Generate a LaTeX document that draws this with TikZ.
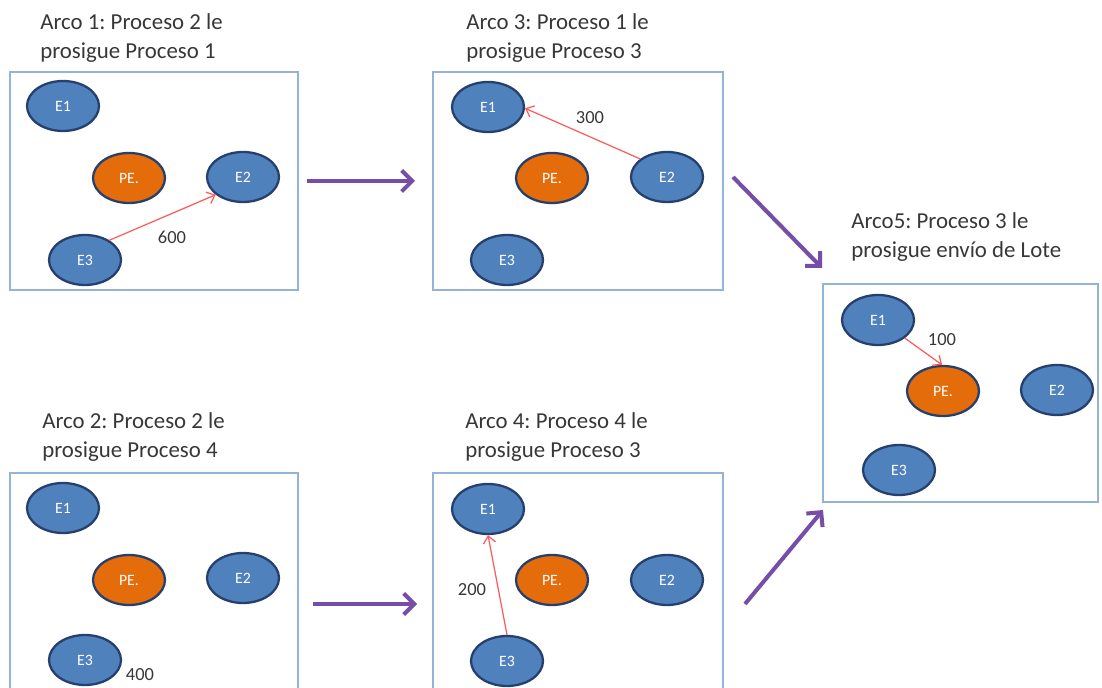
\documentclass[tikz,border=0pt]{standalone}
\usepackage{fontspec}
\setmainfont{Carlito}
\frenchspacing
\usetikzlibrary{shapes.geometric, arrows.meta}
\definecolor{nodeblue}{RGB}{79,129,189}
\definecolor{borderblue}{RGB}{38,64,110}
\definecolor{peorange}{RGB}{228,108,10}
\definecolor{panelblue}{RGB}{149,179,215}
\definecolor{arcred}{RGB}{255,90,90}
\definecolor{flowpurple}{RGB}{118,78,168}
\definecolor{textgray}{RGB}{55,55,55}

\begin{document}
\begin{tikzpicture}[
    x=0.02cm, y=-0.02cm,
    state/.style={
        ellipse,
        draw=borderblue,
        line width=1.3pt,
        fill=nodeblue,
        text=white,
        minimum width=1.44cm,
        minimum height=1cm,
        inner sep=0pt,
        font=\fontsize{9}{10}\selectfont
    },
    pe/.style={state, fill=peorange},
    panel/.style={draw=panelblue, line width=0.8pt},
    title/.style={anchor=north west, inner sep=0pt, align=left, text=textgray,
        font=\fontsize{13}{16.4}\selectfont},
    weight/.style={text=textgray, inner sep=0pt, font=\fontsize{10.5}{12}\selectfont},
    arc/.style={draw=arcred, line width=0.7pt, -{Straight Barb[length=4pt,width=7pt]}},
    flow/.style={draw=flowpurple, line width=2.3pt, -{Straight Barb[length=6pt,width=12pt]}}
]
    \useasboundingbox (0,0) rectangle (1102,688);

    \draw[panel] (10,72) rectangle (298,290);
    \draw[panel] (433,72) rectangle (723,290);
    \draw[panel] (823,284) rectangle (1098,502);
    \draw[panel] (10,688) -- (10,473) -- (298,473) -- (298,688);
    \draw[panel] (433,688) -- (433,473) -- (723,473) -- (723,688);

    \node (t1) [title] at (40,13) {Arco 1: Proceso 2 le\\prosigue Proceso 1};
    \node (t3) [title] at (466,13) {Arco 3: Proceso 1 le\\prosigue Proceso 3};
    \node (t5) [title] at (851,212) {Arco5: Proceso 3 le\\prosigue envío de Lote};
    \node (t2) [title] at (42,412) {Arco 2: Proceso 2 le\\prosigue Proceso 4};
    \node (t4) [title] at (465,412) {Arco 4: Proceso 4 le\\prosigue Proceso 3};

    \node (p1e1) [state] at (63,106) {E1};
    \node (p1pe) [pe] at (129,178) {PE.};
    \node (p1e2) [state] at (243,177) {E2};
    \node (p1e3) [state] at (85,260) {E3};
    \node (w600) [weight] at (172,237) {600};
    \draw[arc] (p1e3.39) -- (p1e2.213);

    \node (p3e1) [state] at (488,107) {E1};
    \node (p3pe) [pe] at (552,178) {PE.};
    \node (p3e2) [state] at (667,177) {E2};
    \node (p3e3) [state] at (507,260) {E3};
    \node (w300) [weight] at (590,118) {300};
    \draw[arc] (p3e2.146) -- (p3e1.-2);

    \node (p5e1) [state] at (878,320) {E1};
    \node (p5pe) [pe] at (943,391) {PE.};
    \node (p5e2) [state] at (1057,390) {E2};
    \node (p5e3) [state] at (899,470) {E3};
    \node (w100) [weight] at (942,340) {100};
    \draw[arc] (p5e1.-34) -- (p5pe.92);

    \node (p2e1) [state] at (63,508) {E1};
    \node (p2pe) [pe] at (129,580) {PE.};
    \node (p2e2) [state] at (243,578) {E2};
    \node (p2e3) [state] at (85,660) {E3};
    \node (w400) [weight] at (140,675) {400};

    \node (p4e1) [state] at (488,509) {E1};
    \node (p4pe) [pe] at (552,580) {PE.};
    \node (p4e2) [state] at (667,580) {E2};
    \node (p4e3) [state] at (507,661) {E3};
    \node (w200) [weight] at (472,590) {200};
    \draw[arc] (p4e3.north) -- (p4e1.south);

    \coordinate (a1s) at (307,181);
    \coordinate (a1e) at (415,181);
    \coordinate (a2s) at (733,177);
    \coordinate (a2e) at (822,268);
    \coordinate (a3s) at (313,604);
    \coordinate (a3e) at (417,604);
    \coordinate (a4s) at (745,604);
    \coordinate (a4e) at (823,510);

    \draw[flow] (a1s) -- (a1e);
    \draw[flow] (a2s) -- (a2e);
    \draw[flow] (a3s) -- (a3e);
    \draw[flow] (a4s) -- (a4e);

\end{tikzpicture}
\end{document}
